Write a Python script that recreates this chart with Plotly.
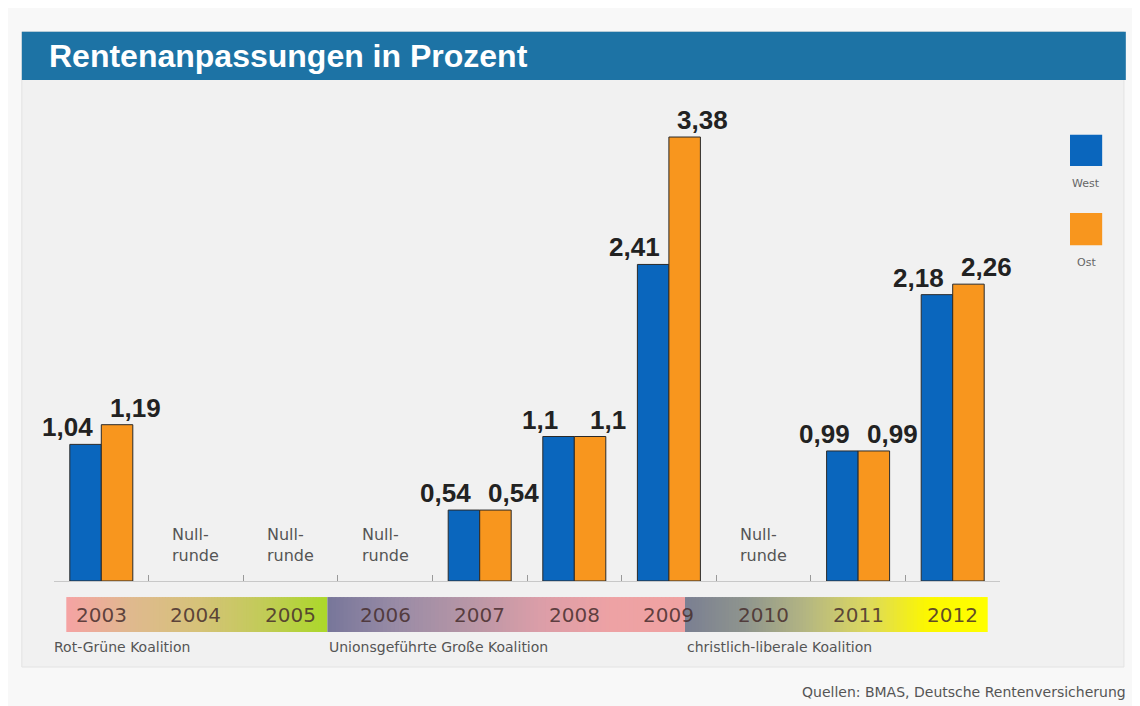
import plotly.graph_objects as go

years = ["2003", "2004", "2005", "2006", "2007", "2008", "2009", "2010", "2011", "2012"]
west = [1.04, 0, 0, 0, 0.54, 1.1, 2.41, 0, 0.99, 2.18]
ost = [1.19, 0, 0, 0, 0.54, 1.1, 3.38, 0, 0.99, 2.26]
null_runde = ["2004", "2005", "2006", "2010"]
coalitions = ["Rot-Grüne Koalition", "Unionsgeführte Große Koalition", "christlich-liberale Koalition"]
coalition_start = [-0.37, 2.39, 6.17]
coalition_end = [2.39, 6.17, 9.37]
coalition_label_x = [-0.52, 2.39, 6.17]
coalition_colors = [
    ["#f5a3a3", "#dfb98e", "#d6c27a", "#c2cb58", "#abd82a"],
    ["#77769a", "#9a8ca6", "#b896a6", "#dc9ea8", "#eea2a4", "#efa2a2"],
    ["#7a7f92", "#8f958e", "#b4b682", "#dcd860", "#fcf700", "#ffff00"],
]

FONT = "Liberation Sans, Arial, sans-serif"
FONT2 = "DejaVu Sans, sans-serif"
xs = list(range(len(years)))

fig = go.Figure()
fig.add_trace(go.Bar(x=xs, y=[v if v else None for v in west], name="West",
                     marker=dict(color="#0a66bd", line=dict(color="#2a2a2a", width=1))))
fig.add_trace(go.Bar(x=xs, y=[v if v else None for v in ost], name="Ost",
                     marker=dict(color="#f8961e", line=dict(color="#2a2a2a", width=1))))


def hex2rgb(h):
    h = h.lstrip("#")
    return tuple(int(h[i:i + 2], 16) for i in (0, 2, 4))


def interp(stops, t):
    n = len(stops) - 1
    pos = t * n
    k = min(int(pos), n - 1)
    f = pos - k
    a, b = hex2rgb(stops[k]), hex2rgb(stops[k + 1])
    return "rgb(%d,%d,%d)" % tuple(round(a[j] + (b[j] - a[j]) * f) for j in range(3))


shapes = []
# panel background
shapes.append(dict(type="rect", xref="paper", yref="paper", x0=-0.034, x1=1.131, y0=-0.177, y1=1.13,
                   fillcolor="#f1f1f1", line=dict(color="#e2e2e2", width=1), layer="below"))
# title bar
shapes.append(dict(type="rect", xref="paper", yref="paper", x0=-0.034, x1=1.133, y0=1.031, y1=1.13,
                   fillcolor="#1d73a5", line=dict(width=0), layer="below"))
# gradient band
N = 90
for s, e, cols in zip(coalition_start, coalition_end, coalition_colors):
    w = (e - s) / N
    for k in range(N):
        shapes.append(dict(type="rect", xref="x", yref="paper", x0=s + k * w,
                           x1=min(e, s + (k + 1) * w + w * 0.3),
                           y0=-0.105, y1=-0.033, fillcolor=interp(cols, (k + 0.5) / N), line=dict(width=0),
                           layer="below"))
# legend squares
shapes.append(dict(type="rect", xref="paper", yref="paper", x0=1.074, x1=1.108, y0=0.854, y1=0.918,
                   fillcolor="#0a66bd", line=dict(width=0)))
shapes.append(dict(type="rect", xref="paper", yref="paper", x0=1.074, x1=1.108, y0=0.691, y1=0.757,
                   fillcolor="#f8961e", line=dict(width=0)))

ann = []
ann.append(dict(text="<b>Rentenanpassungen in Prozent</b>", xref="paper", yref="paper", x=-0.007, y=1.080,
                xanchor="left", yanchor="middle", showarrow=False, font=dict(family=FONT, size=32, color="white")))
for i, (w_, o_) in enumerate(zip(west, ost)):
    if w_ > 0:
        ann.append(dict(text="<b>%s</b>" % str(w_).replace(".", ","), x=i, y=w_, xshift=-34, yshift=0,
                        yanchor="bottom", showarrow=False, font=dict(family=FONT, size=26, color="#222")))
    if o_ > 0:
        ann.append(dict(text="<b>%s</b>" % str(o_).replace(".", ","), x=i, y=o_, xshift=34, yshift=0,
                        yanchor="bottom", showarrow=False, font=dict(family=FONT, size=26, color="#222")))
for y in null_runde:
    ann.append(dict(text="Null-<br>runde", x=years.index(y), y=0.074, yref="paper", showarrow=False,
                    align="left", xanchor="center", yanchor="middle", font=dict(family=FONT2, size=16, color="#555")))
for i, y in enumerate(years):
    ann.append(dict(text=y, x=i, y=-0.069, yref="paper", showarrow=False, xanchor="center", yanchor="middle",
                    font=dict(family=FONT2, size=20, color="rgba(70,45,45,0.85)")))
for c, s in zip(coalitions, coalition_label_x):
    ann.append(dict(text=c, xref="paper", x=(s + 0.5) / len(years), y=-0.136, yref="paper",
                    xanchor="left", yanchor="middle",
                    showarrow=False, font=dict(family=FONT2, size=14, color="#555")))
ann.append(dict(text="West", xref="paper", yref="paper", x=1.091, y=0.817, showarrow=False,
                xanchor="center", yanchor="middle", font=dict(family=FONT2, size=11, color="#666")))
ann.append(dict(text="Ost", xref="paper", yref="paper", x=1.091, y=0.656, showarrow=False,
                xanchor="center", yanchor="middle", font=dict(family=FONT2, size=11, color="#666")))
ann.append(dict(text="Quellen: BMAS, Deutsche Rentenversicherung", xref="paper", yref="paper", x=1.135, y=-0.228,
                xanchor="right", yanchor="middle", showarrow=False, font=dict(family=FONT2, size=14, color="#555")))

fig.update_layout(
    width=1140, height=706,
    margin=dict(l=46, r=148, t=87, b=133),
    paper_bgcolor="#f8f8f8", plot_bgcolor="rgba(0,0,0,0)",
    barmode="group", bargap=0.334, bargroupgap=0,
    showlegend=False,
    shapes=shapes, annotations=ann,
    xaxis=dict(range=[-0.5, 9.5], tickvals=[i - 0.5 for i in range(11)], showticklabels=False,
               ticks="inside", ticklen=6, tickcolor="#999", showline=True, linecolor="#c8c8c8",
               showgrid=False, zeroline=False, fixedrange=True),
    yaxis=dict(range=[0, 3.70], visible=False, showgrid=False, zeroline=False, fixedrange=True),
)

fig.write_html("out.html")
